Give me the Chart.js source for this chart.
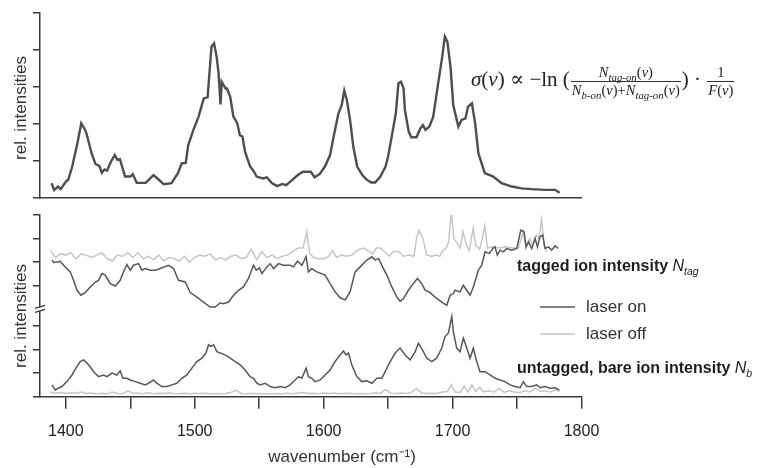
<!DOCTYPE html>
<html lang="en">
<head>
<meta charset="UTF-8">
<title>IR spectrum – tagged / untagged ion intensities</title>
<script src="https://cdn.jsdelivr.net/npm/chart.js"></script>
<style>
    body { margin: 0; background: #ffffff; }
    .wrap { position: relative; width: 766px; height: 468px; overflow: hidden; background: #fff; }
    canvas { position: absolute; left: 0; }
    #topChart { top: 0; }
    #bottomChart { top: 200px; }
    /* formula in the upper panel */
    #formula {
        position: absolute; left: 471px; top: 65px;
        font-family: 'Liberation Serif', 'DejaVu Serif', serif;
        font-size: 21px; color: #222; white-space: nowrap; line-height: 1;
    }
    #formula .frac { display: inline-block; vertical-align: middle; font-size: 14.5px; text-align: center; margin: 0 1px; }
    #formula .frac > span { display: block; padding: 0 1px; }
    #formula .frac > span:first-child { border-bottom: 1px solid #333; padding-bottom: 1px; }
    #formula .frac > span:last-child { padding-top: 1px; }
    #formula sub { font-size: 0.75em; vertical-align: -0.35em; line-height: 0; font-style: italic; }
</style>
</head>
<body>
<div class="wrap">
    <canvas id="topChart" width="766" height="210"></canvas>
    <canvas id="bottomChart" width="766" height="268"></canvas>
    <div id="formula"><i>σ</i>(<i>ν</i>) ∝ −ln (<span class="frac"><span><i>N</i><sub>tag-on</sub>(<i>ν</i>)</span><span><i>N</i><sub>b-on</sub>(<i>ν</i>)+<i>N</i><sub>tag-on</sub>(<i>ν</i>)</span></span>) · <span class="frac"><span>1</span><span><i>F</i>(<i>ν</i>)</span></span></div>
</div>

<script>
// x range (wavenumber, cm-1)
const xMin = 1380;
const xMax = 1800;
const xTicks = [1400, 1450, 1500, 1550, 1600, 1650, 1700, 1750, 1800];

// upper panel: sigma(nu) spectrum
const topWn = [1389, 1391, 1394, 1396, 1400, 1402, 1405, 1409, 1412, 1415, 1416, 1420, 1423, 1426, 1428, 1430, 1432, 1435, 1438, 1440,
    1442, 1446, 1450, 1452, 1455, 1462, 1468, 1472, 1476, 1482, 1487, 1490, 1493, 1495, 1499, 1503, 1507, 1510, 1513, 1515,
    1517, 1518.5, 1520, 1521, 1524, 1525, 1527.5, 1530, 1533, 1535, 1537, 1539, 1543, 1546, 1548, 1553, 1556, 1560, 1564, 1568,
    1571, 1575, 1580, 1584, 1590, 1593, 1597, 1601, 1605, 1608, 1611.5, 1614, 1616, 1618, 1620.5, 1623, 1626, 1630, 1633.5, 1637,
    1640, 1644, 1648, 1650, 1653, 1656, 1658, 1660, 1662, 1663, 1666, 1668, 1672, 1675, 1677, 1679, 1682, 1685, 1689, 1692,
    1694, 1696, 1698.5, 1700.5, 1704.5, 1707, 1710, 1712, 1715, 1717.5, 1720, 1725, 1731.5, 1738, 1746, 1753.5, 1761, 1772, 1779.5, 1783];
const topVal = [0.40, 0.22, 0.31, 0.24, 0.44, 0.50, 0.85, 1.48, 2.02, 1.84, 1.75, 1.21, 0.92, 0.87, 0.68, 0.77, 0.74, 0.98, 1.16, 1.03,
    1.05, 0.58, 0.58, 0.64, 0.41, 0.41, 0.62, 0.50, 0.37, 0.40, 0.67, 0.94, 0.95, 1.43, 1.84, 2.20, 2.69, 2.72, 4.09, 4.18,
    3.82, 3.37, 2.53, 3.14, 2.96, 2.96, 2.74, 2.20, 2.02, 1.70, 1.66, 1.25, 0.85, 0.71, 0.58, 0.53, 0.56, 0.40, 0.32, 0.38,
    0.35, 0.47, 0.62, 0.71, 0.71, 0.56, 0.65, 0.85, 1.16, 1.70, 2.29, 2.51, 2.90, 2.65, 2.11, 1.39, 0.85, 0.62, 0.49, 0.42,
    0.42, 0.58, 0.85, 1.12, 1.70, 2.29, 3.10, 3.14, 2.96, 2.38, 1.79, 1.64, 1.64, 1.88, 1.97, 1.84, 1.93, 2.20, 3.14, 3.82,
    4.36, 4.22, 3.51, 2.51, 1.93, 2.11, 2.15, 2.47, 2.56, 2.02, 1.21, 0.67, 0.58, 0.40, 0.31, 0.26, 0.24, 0.22, 0.22, 0.14];

// lower panel, tagged ion intensity N_tag
const tagOnWn = [1389.3, 1390.5, 1393.2, 1395.7, 1397.1, 1399.6, 1403.5, 1406, 1408.7, 1411.8, 1415.1, 1419, 1422.9, 1425.4, 1428.1, 1430.6, 1434.5, 1438.4, 1442.2, 1444.8,
    1447.4, 1450, 1452.6, 1456.4, 1459.1, 1461.6, 1465.5, 1469.4, 1473.3, 1479.7, 1483.6, 1487.4, 1492.6, 1496.5, 1501.7, 1506.8, 1512, 1515.9, 1519.8, 1522.3,
    1526.2, 1530.1, 1534, 1537.8, 1541.7, 1545.6, 1547.7, 1550.2, 1552.1, 1556, 1558.5, 1561.1, 1565, 1568.8, 1574, 1576.6, 1579.7, 1583.1, 1586.4, 1588.2,
    1590.8, 1594.7, 1601.2, 1605, 1608.9, 1612.8, 1616.7, 1620.5, 1624.4, 1628.3, 1633.5, 1637.4, 1639.9, 1642.5, 1646.4, 1649, 1652.9, 1656.8, 1659.3, 1661.9,
    1665.7, 1669.6, 1672.7, 1676.1, 1678.7, 1682.6, 1686.4, 1691.6, 1695.5, 1698.1, 1700.6, 1701.9, 1705.8, 1708.3, 1711, 1713.6, 1716.1, 1720, 1722.6, 1725.2,
    1728.5, 1731.2, 1732.9, 1734.7, 1736.8, 1739.4, 1742, 1745.9, 1749.8, 1752.9, 1755.4, 1757, 1758.8, 1761.4, 1764, 1765.8, 1767.8, 1769.9, 1771.7, 1774.3,
    1776.9, 1779.5, 1782];
const tagOnVal = [2.09, 1.99, 2.01, 2.04, 1.94, 1.80, 1.59, 1.23, 0.81, 0.60, 0.71, 0.95, 1.16, 1.23, 1.52, 1.45, 1.09, 0.99, 1.23, 1.59,
    1.90, 1.66, 1.87, 1.94, 1.66, 1.73, 1.66, 1.66, 1.73, 1.87, 1.73, 1.23, 1.16, 0.71, 0.52, 0.31, 0.10, 0.10, 0.28, 0.24,
    0.31, 0.60, 0.81, 0.95, 1.31, 1.87, 1.66, 1.76, 1.52, 1.80, 1.94, 1.73, 1.94, 1.87, 1.87, 1.80, 2.04, 1.87, 2.23, 1.59,
    1.73, 1.59, 1.45, 1.09, 0.74, 0.49, 0.40, 0.74, 1.59, 1.80, 2.09, 2.23, 2.09, 2.16, 1.73, 1.45, 0.95, 0.52, 0.35, 0.45,
    0.81, 1.09, 1.31, 1.09, 0.81, 0.71, 0.52, 0.31, 0.17, 0.60, 0.67, 0.81, 0.74, 1.02, 0.81, 0.60, 0.95, 1.66, 1.87, 2.44,
    2.37, 2.58, 2.65, 2.30, 2.51, 2.44, 2.58, 2.51, 2.58, 3.36, 3.29, 2.65, 2.87, 2.58, 3.01, 2.65, 3.08, 3.15, 2.58, 2.65,
    2.51, 2.69, 2.58];
const tagOffWn = [1388, 1392, 1396, 1400, 1404, 1408, 1412, 1416, 1420, 1424, 1428, 1432, 1436, 1440, 1444, 1448, 1452, 1456, 1460, 1464,
    1468, 1472, 1476, 1480, 1484, 1488, 1492, 1496, 1500, 1504, 1508, 1512, 1516, 1520, 1524, 1528, 1532, 1536, 1540, 1544,
    1548, 1552, 1556, 1560, 1564, 1568, 1572, 1576, 1580, 1584, 1587, 1589, 1592, 1596, 1600, 1604, 1607, 1610, 1614, 1618,
    1622, 1625, 1628, 1631, 1634, 1638, 1641, 1644, 1648, 1651, 1654, 1658, 1662, 1666, 1670, 1672, 1674, 1677, 1680, 1684,
    1687, 1690, 1692, 1695, 1697, 1699, 1701, 1703, 1706, 1708, 1711, 1713, 1716, 1718, 1721, 1723, 1725, 1727, 1731, 1736,
    1741, 1746, 1751, 1755, 1757, 1760, 1762, 1765, 1767, 1769, 1771, 1773];
const tagOffVal = [2.50, 2.20, 2.35, 2.30, 2.40, 2.15, 2.35, 2.30, 2.20, 2.30, 2.40, 2.15, 2.05, 2.30, 2.25, 2.40, 2.20, 2.40, 2.15, 2.25,
    2.10, 2.30, 2.05, 2.20, 2.15, 2.05, 2.25, 2.00, 2.20, 2.30, 2.25, 2.35, 2.10, 2.20, 2.10, 2.25, 2.30, 2.15, 2.20, 2.55,
    2.10, 2.45, 2.20, 2.30, 2.15, 2.25, 2.30, 2.45, 2.60, 2.60, 3.30, 2.40, 2.20, 2.15, 2.15, 2.25, 2.50, 2.20, 2.30, 2.25,
    2.30, 2.45, 2.55, 2.60, 2.50, 2.35, 2.60, 2.60, 2.40, 2.25, 2.45, 2.45, 2.25, 2.30, 2.25, 3.00, 3.35, 3.00, 2.30, 2.25,
    2.30, 2.25, 2.45, 2.60, 2.85, 4.15, 3.00, 2.85, 2.60, 3.30, 2.70, 2.50, 3.45, 2.70, 2.55, 3.00, 3.55, 2.60, 2.65, 2.60,
    2.65, 2.60, 2.60, 3.30, 2.60, 3.00, 2.70, 3.15, 3.00, 3.80, 2.70, 2.45];

// lower panel, untagged bare ion intensity N_b
const unOnWn = [1389.3, 1391.9, 1394.4, 1397, 1400.9, 1404.8, 1408.7, 1411.2, 1413.8, 1417.7, 1421.6, 1425.4, 1429.3, 1431.9, 1435.8, 1439.6, 1442.2, 1444.3, 1447.4, 1450,
    1453.9, 1457.7, 1461.6, 1464.2, 1468.1, 1470.6, 1474.5, 1478.4, 1482.3, 1486.1, 1490, 1493.9, 1497.8, 1501.7, 1505.6, 1508.7, 1510.7, 1512.5, 1514.6, 1517.2,
    1519.8, 1523.6, 1527.5, 1531.4, 1535.3, 1539.1, 1543, 1545.6, 1548.2, 1550.8, 1554.6, 1558.5, 1562.4, 1566.3, 1570.2, 1574, 1577.9, 1580.5, 1583.1, 1586.4,
    1588.2, 1590.8, 1593.4, 1597.3, 1601.2, 1605, 1608.9, 1612.8, 1615.4, 1617.4, 1619.3, 1621.8, 1625.7, 1629.6, 1633.5, 1637.4, 1641.3, 1645.1, 1647.7, 1651.6,
    1655.5, 1659.3, 1663.2, 1667.1, 1671, 1673.5, 1677.4, 1680, 1683.9, 1687.7, 1691.6, 1694.2, 1696.8, 1698.1, 1699.4, 1700.6, 1703.2, 1705.8, 1708.4, 1711,
    1713.6, 1716.1, 1718.7, 1721.3, 1725.2, 1729.1, 1733, 1736.8, 1740.7, 1744.6, 1748.5, 1752.4, 1754.9, 1757.5, 1761.4, 1765.3, 1767.9, 1771.7, 1775.6, 1779.5,
    1782.9];
const unOnVal = [0.50, 0.28, 0.37, 0.43, 0.64, 0.92, 1.28, 1.49, 1.56, 1.35, 1.06, 0.85, 0.92, 0.85, 1.00, 0.92, 1.09, 0.78, 0.78, 0.71,
    0.64, 0.57, 0.50, 0.57, 0.71, 0.57, 0.43, 0.43, 0.50, 0.57, 0.78, 0.92, 1.21, 1.49, 1.63, 1.85, 2.20, 2.13, 2.20, 1.91,
    1.85, 1.77, 1.63, 1.49, 1.35, 1.13, 0.85, 0.78, 0.57, 0.50, 0.57, 0.43, 0.38, 0.43, 0.38, 0.50, 0.71, 0.85, 0.78, 1.21,
    0.85, 0.78, 0.64, 0.71, 0.92, 1.13, 1.49, 1.77, 1.94, 1.77, 1.85, 1.35, 0.85, 0.64, 0.67, 0.57, 0.78, 0.78, 1.06, 1.49,
    1.85, 2.06, 1.77, 1.56, 1.91, 2.27, 1.91, 1.63, 1.49, 1.63, 2.06, 2.55, 2.70, 3.05, 3.40, 2.77, 2.06, 1.91, 2.48, 2.06,
    1.63, 2.06, 1.49, 1.06, 1.06, 0.92, 0.78, 0.71, 0.64, 0.50, 0.43, 0.38, 0.64, 0.43, 0.43, 0.50, 0.38, 0.43, 0.36, 0.38,
    0.28];
const unOffWn = [1388, 1392, 1396, 1400, 1404, 1408, 1412, 1416, 1420, 1424, 1428, 1432, 1436, 1440, 1444, 1448, 1452, 1456, 1460, 1464,
    1468, 1472, 1476, 1480, 1484, 1488, 1492, 1496, 1500, 1504, 1508, 1512, 1516, 1520, 1524, 1528, 1532, 1536, 1540, 1544,
    1548, 1552, 1556, 1560, 1564, 1568, 1572, 1576, 1580, 1584, 1588, 1592, 1596, 1600, 1604, 1608, 1612, 1616, 1620, 1624,
    1628, 1632, 1636, 1640, 1644, 1648, 1652, 1656, 1660, 1664, 1668, 1672, 1676, 1680, 1684, 1688, 1692, 1696, 1699, 1702,
    1706, 1709, 1712, 1715, 1718, 1721, 1724, 1728, 1732, 1736, 1740, 1744, 1748, 1752, 1756, 1760, 1764, 1768, 1772, 1776,
    1780, 1783];
const unOffVal = [0.20, 0.15, 0.18, 0.14, 0.17, 0.15, 0.20, 0.14, 0.16, 0.13, 0.15, 0.12, 0.20, 0.14, 0.13, 0.24, 0.16, 0.15, 0.13, 0.17,
    0.13, 0.15, 0.14, 0.16, 0.14, 0.13, 0.15, 0.13, 0.15, 0.14, 0.15, 0.13, 0.14, 0.13, 0.14, 0.18, 0.28, 0.14, 0.13, 0.15,
    0.13, 0.14, 0.13, 0.12, 0.14, 0.13, 0.15, 0.13, 0.16, 0.18, 0.14, 0.15, 0.13, 0.16, 0.14, 0.16, 0.13, 0.14, 0.15, 0.13,
    0.14, 0.13, 0.14, 0.16, 0.14, 0.30, 0.15, 0.14, 0.16, 0.14, 0.18, 0.35, 0.16, 0.14, 0.15, 0.14, 0.20, 0.22, 0.50, 0.20,
    0.18, 0.45, 0.20, 0.50, 0.22, 0.40, 0.20, 0.25, 0.20, 0.35, 0.18, 0.25, 0.20, 0.18, 0.25, 0.20, 0.35, 0.22, 0.25, 0.20,
    0.30, 0.22];

const axisColor = '#3a3a3a';
const darkLine = '#575757';
const lightLine = '#c6c6c6';
const sansFont = "'Liberation Sans', Arial, sans-serif";

const toXY = (xs, ys) => xs.map((x, i) => ({ x: x, y: ys[i] }));

// y axis with tick marks only (no labels)
function tickOnlyAxis(extra) {
    return Object.assign({
        type: 'linear',
        position: 'left',
        ticks: { display: false, stepSize: 1 },
        grid: { drawOnChartArea: false, drawTicks: true, tickLength: 7, color: axisColor, lineWidth: 1.5 },
        border: { color: axisColor, width: 1.5 },
        afterFit(scale) { scale.width = 7; }
    }, extra);
}

function drawYLabel(ctx, x, y) {
    ctx.save();
    ctx.translate(x, y);
    ctx.rotate(-Math.PI / 2);
    ctx.font = '17px ' + sansFont;
    ctx.fillStyle = '#333';
    ctx.textAlign = 'center';
    ctx.textBaseline = 'middle';
    ctx.fillText('rel. intensities', 0, 0);
    ctx.restore();
}

// ---------- upper panel ----------
const topLabels = {
    id: 'topLabels',
    afterDraw(chart) {
        drawYLabel(chart.ctx, 21, 108);
    }
};

new Chart(document.getElementById('topChart'), {
    type: 'line',
    data: {
        datasets: [{
            data: toXY(topWn, topVal),
            borderColor: '#4e4e4e',
            borderWidth: 2.4,
            pointRadius: 0,
            tension: 0
        }]
    },
    options: {
        responsive: false,
        animation: false,
        layout: { padding: { top: 13, left: 33, right: 184.5, bottom: 12 } },
        plugins: { legend: { display: false }, tooltip: { enabled: false } },
        scales: {
            x: {
                type: 'linear', min: xMin, max: xMax,
                ticks: { display: false },
                grid: { display: false, drawTicks: false },
                border: { color: axisColor, width: 1.5 },
                afterFit(scale) { scale.height = 0; }
            },
            y: tickOnlyAxis({ min: 0, max: 5 })
        }
    },
    plugins: [topLabels]
});

// ---------- lower panel ----------
const bottomLabels = {
    id: 'bottomLabels',
    afterDraw(chart) {
        const ctx = chart.ctx;
        const ax = chart.chartArea.left;
        const yb = chart.scales.yUn.top;

        // axis break
        ctx.save();
        ctx.fillStyle = '#fff';
        ctx.fillRect(ax - 2, yb - 2.5, 4, 4);
        ctx.strokeStyle = axisColor;
        ctx.lineWidth = 1.3;
        ctx.beginPath();
        ctx.moveTo(ax - 5, yb - 1); ctx.lineTo(ax + 5, yb - 4);
        ctx.moveTo(ax - 5, yb + 3); ctx.lineTo(ax + 5, yb);
        ctx.stroke();
        ctx.restore();

        drawYLabel(ctx, 21, 116);

        ctx.save();
        ctx.textBaseline = 'middle';
        ctx.textAlign = 'left';
        ctx.fillStyle = '#333';

        // x axis title
        ctx.font = '17px ' + sansFont;
        ctx.textAlign = 'center';
        ctx.fillText('wavenumber (cm⁻¹)', 342, 257);
        ctx.textAlign = 'left';

        // series names
        const named = (text, sub, x, y) => {
            ctx.fillStyle = '#1e1e1e';
            ctx.font = 'bold 16px ' + sansFont;
            ctx.fillText(text, x, y);
            let w = ctx.measureText(text).width;
            ctx.font = 'italic 16px ' + sansFont;
            ctx.fillText('N', x + w, y);
            w += ctx.measureText('N').width;
            ctx.font = 'italic 10.5px ' + sansFont;
            ctx.fillText(sub, x + w, y + 5);
        };
        named('tagged ion intensity ', 'tag', 517, 67);
        named('untagged, bare ion intensity ', 'b', 517, 169);

        // legend
        ctx.lineWidth = 1.6;
        ctx.strokeStyle = darkLine;
        ctx.beginPath(); ctx.moveTo(540, 107); ctx.lineTo(575, 107); ctx.stroke();
        ctx.strokeStyle = lightLine;
        ctx.beginPath(); ctx.moveTo(540, 134); ctx.lineTo(575, 134); ctx.stroke();
        ctx.fillStyle = '#333';
        ctx.font = '17px ' + sansFont;
        ctx.fillText('laser on', 586, 107);
        ctx.fillText('laser off', 586, 134);
        ctx.restore();
    }
};

const lineStyle = (color) => ({ borderColor: color, borderWidth: 1.5, pointRadius: 0, tension: 0 });

new Chart(document.getElementById('bottomChart'), {
    type: 'line',
    data: {
        datasets: [
            Object.assign({ label: 'tagged, laser on', data: toXY(tagOnWn, tagOnVal), yAxisID: 'yTag' }, lineStyle(darkLine)),
            Object.assign({ label: 'untagged, laser on', data: toXY(unOnWn, unOnVal), yAxisID: 'yUn' }, lineStyle(darkLine)),
            Object.assign({ label: 'tagged, laser off', data: toXY(tagOffWn, tagOffVal), yAxisID: 'yTag' }, lineStyle(lightLine)),
            Object.assign({ label: 'untagged, laser off', data: toXY(unOffWn, unOffVal), yAxisID: 'yUn' }, lineStyle(lightLine))
        ]
    },
    options: {
        responsive: false,
        animation: false,
        layout: { padding: { top: 15, left: 33, right: 184.5, bottom: 0 } },
        plugins: { legend: { display: false }, tooltip: { enabled: false } },
        scales: {
            x: {
                type: 'linear', min: xMin, max: xMax,
                afterBuildTicks(scale) { scale.ticks = xTicks.map(v => ({ value: v })); },
                ticks: {
                    autoSkip: false, maxRotation: 0, padding: 13, color: '#222',
                    font: { family: sansFont, size: 16 },
                    callback: (v) => (v % 100 === 0 ? String(v) : '')
                },
                grid: { drawOnChartArea: false, drawTicks: true, tickLength: 12, color: axisColor, lineWidth: 1.5 },
                border: { color: axisColor, width: 1.5 },
                afterFit(scale) { scale.height = 71.3; }
            },
            yTag: tickOnlyAxis({
                min: 0, max: 4, stack: 'left', stackWeight: 94, weight: 1,
                afterBuildTicks(scale) { scale.ticks = [1, 2, 3, 4].map(v => ({ value: v })); }
            }),
            yUn: tickOnlyAxis({
                min: 0, max: 3.7, stack: 'left', stackWeight: 87, weight: 0,
                afterBuildTicks(scale) { scale.ticks = [0, 1, 2, 3].map(v => ({ value: v })); }
            })
        }
    },
    plugins: [bottomLabels]
});
</script>
</body>
</html>
